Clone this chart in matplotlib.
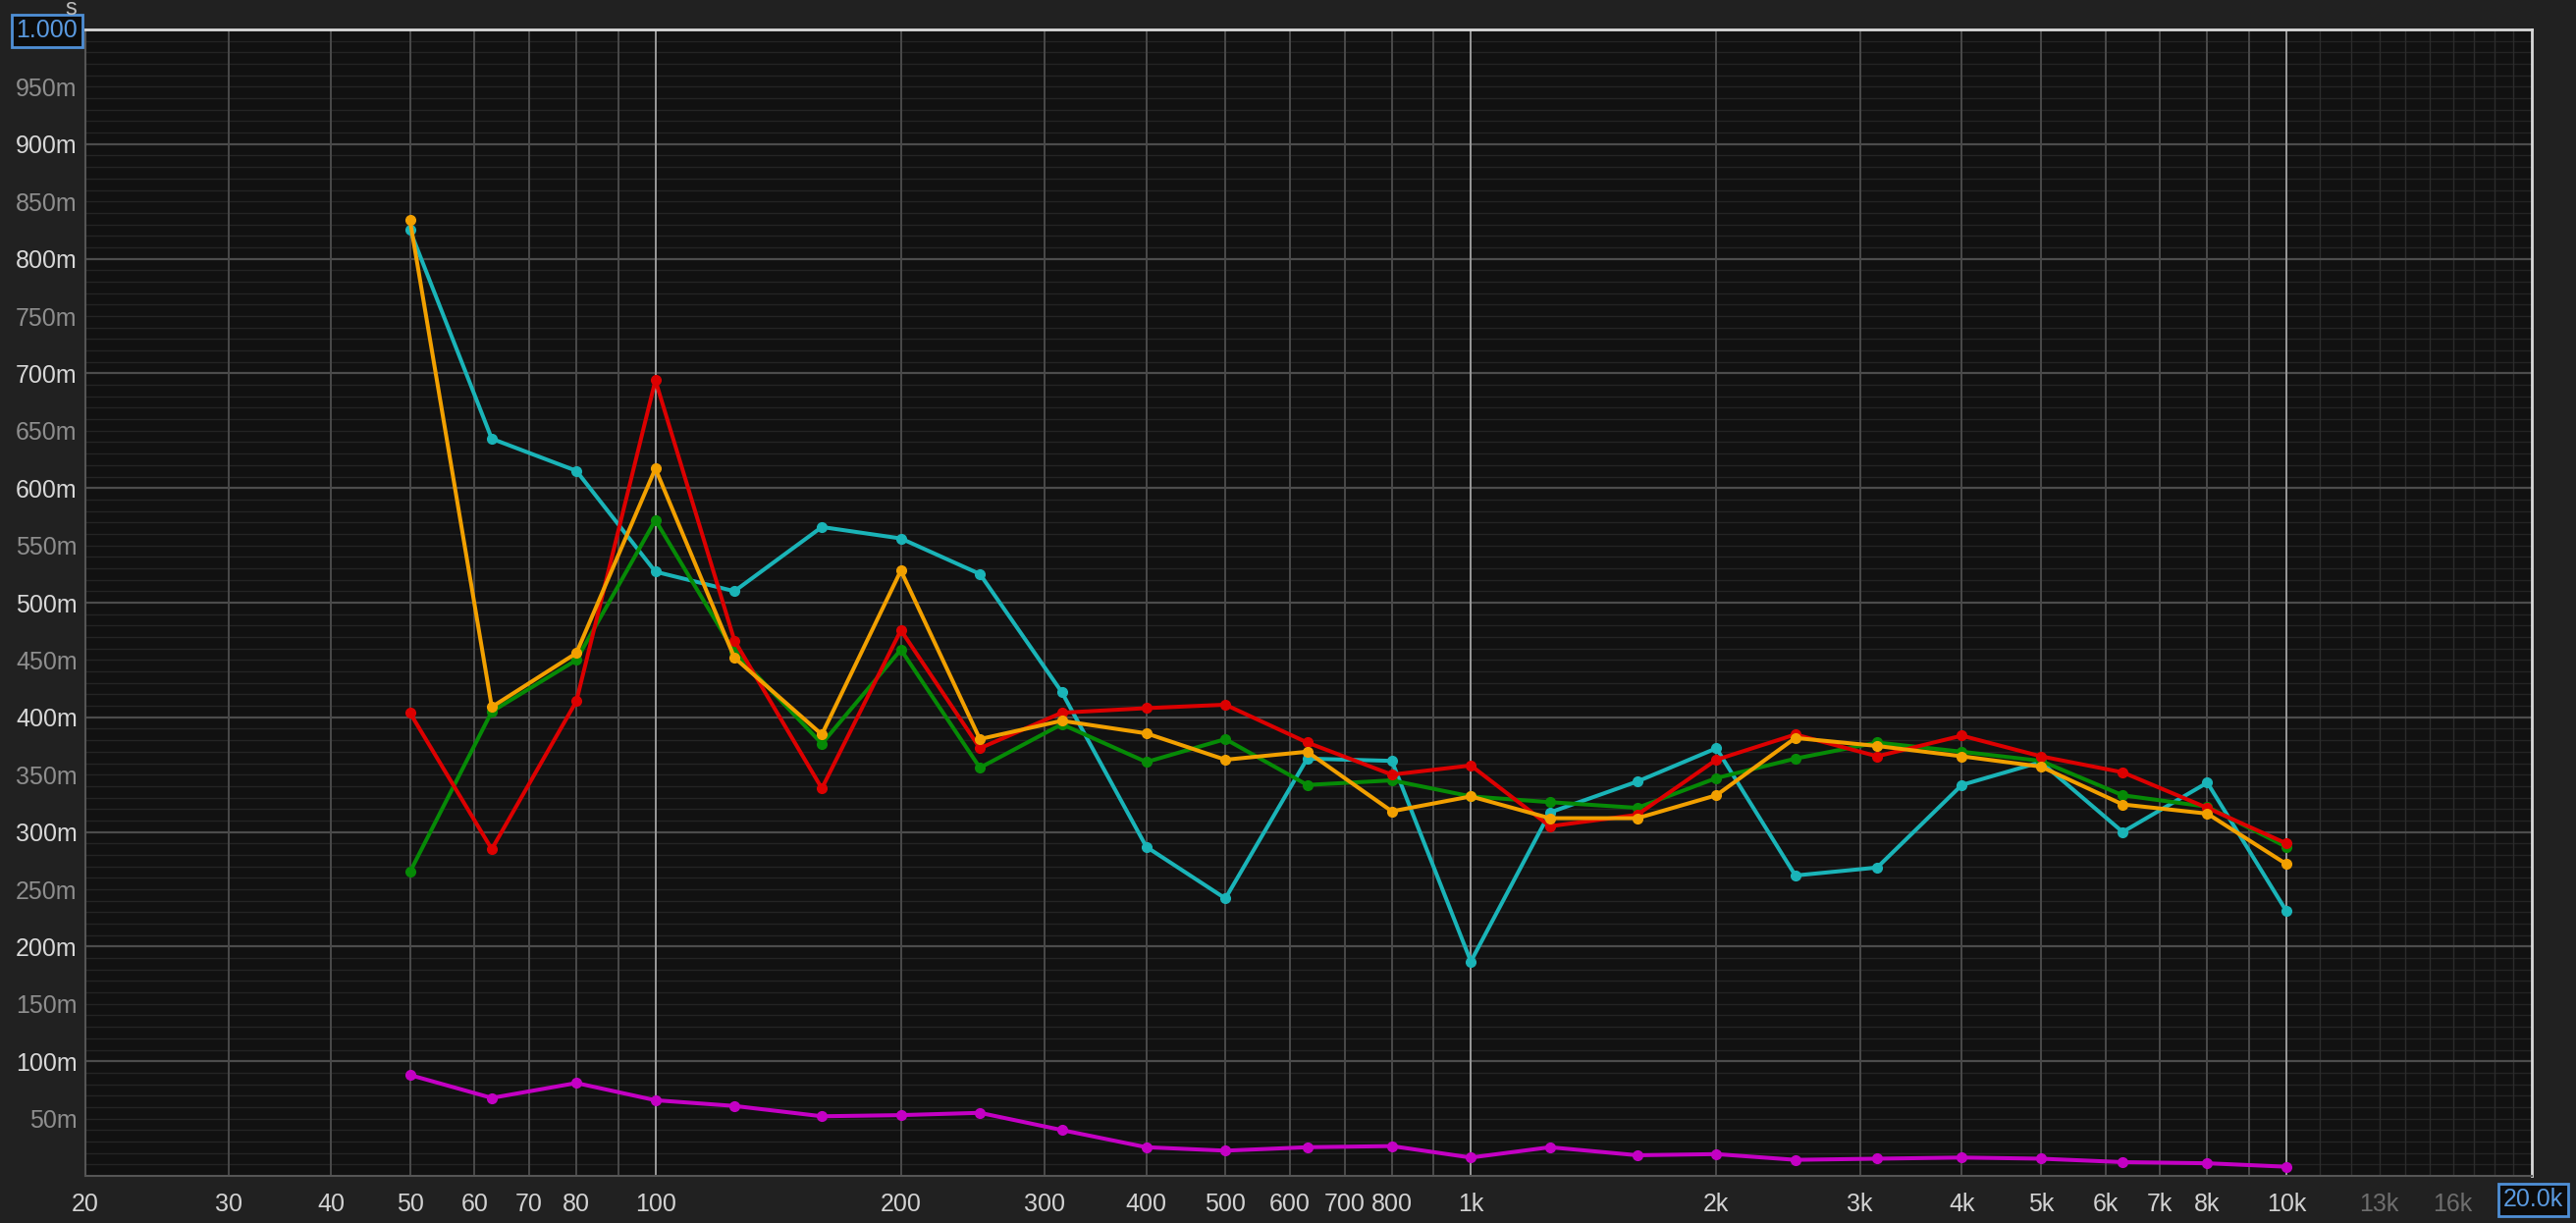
import matplotlib.pyplot as plt

# 1/3 octave centre frequencies (Hz)
freqs = [50, 63, 80, 100, 125, 160, 200, 250, 315, 400, 500, 630, 800,
         1000, 1250, 1600, 2000, 2500, 3150, 4000, 5000, 6300, 8000, 10000]

# decay times in seconds, one list per trace
rt_cyan = [0.825, 0.643, 0.615, 0.527, 0.510, 0.566, 0.556, 0.525, 0.422, 0.287,
           0.242, 0.364, 0.362, 0.187, 0.317, 0.344, 0.373, 0.262, 0.269, 0.341,
           0.361, 0.300, 0.343, 0.231]
rt_green = [0.265, 0.405, 0.450, 0.572, 0.457, 0.377, 0.459, 0.356, 0.394, 0.361,
            0.381, 0.341, 0.345, 0.331, 0.326, 0.321, 0.347, 0.364, 0.378, 0.370,
            0.362, 0.332, 0.322, 0.287]
rt_red = [0.404, 0.285, 0.414, 0.694, 0.467, 0.338, 0.476, 0.373, 0.404, 0.408,
          0.411, 0.378, 0.350, 0.358, 0.305, 0.315, 0.363, 0.385, 0.366, 0.384,
          0.366, 0.352, 0.321, 0.290]
rt_orange = [0.834, 0.409, 0.456, 0.617, 0.452, 0.385, 0.528, 0.381, 0.397, 0.386,
             0.363, 0.370, 0.318, 0.331, 0.312, 0.312, 0.332, 0.382, 0.375, 0.366,
             0.357, 0.324, 0.316, 0.272]
rt_magenta = [0.088, 0.068, 0.081, 0.066, 0.061, 0.052, 0.053, 0.055, 0.040, 0.025,
              0.022, 0.025, 0.026, 0.016, 0.025, 0.018, 0.019, 0.014, 0.015, 0.016,
              0.015, 0.012, 0.011, 0.008]

x_ticks = [20, 30, 40, 50, 60, 70, 80, 100, 200, 300, 400, 500, 600, 700, 800,
           1000, 2000, 3000, 4000, 5000, 6000, 7000, 8000, 10000, 13000, 16000]
x_labels = ['20', '30', '40', '50', '60', '70', '80', '100', '200', '300', '400',
            '500', '600', '700', '800', '1k', '2k', '3k', '4k', '5k', '6k', '7k',
            '8k', '10k', '13k', '16k']
y_ticks = [i * 0.05 for i in range(1, 20)]
y_labels = ['%dm' % round(v * 1000) for v in y_ticks]

plt.rcParams['font.family'] = ['Liberation Sans', 'DejaVu Sans']

fig = plt.figure(figsize=(26.24, 12.46), dpi=100, facecolor='#212121')
ax = fig.add_axes([87 / 2624, 48 / 1246, (2579 - 87) / 2624, (1198 - 30) / 1246])
ax.set_facecolor('#111111')
ax.set_xscale('log')
ax.set_xlim(20, 20000)
ax.set_ylim(0, 1.0)

# horizontal grid: fine every 10m, stronger every 100m
for i in range(1, 100):
    v = i / 100
    if i % 10 == 0:
        ax.axhline(v, color='#4c4c4c', lw=1.6, zorder=1)
    else:
        ax.axhline(v, color='#242424', lw=1.0, zorder=0.5)

# vertical grid on the 1..9 x decade positions
for dec in [10, 100, 1000]:
    for m in range(1, 10):
        f = m * dec
        if f < 20 or f > 10000:
            continue
        if f in (100, 1000):
            ax.axvline(f, color='#9a9a9a', lw=1.4, zorder=1)
        else:
            ax.axvline(f, color='#4a4a4a', lw=1.4, zorder=1)
ax.axvline(10000, color='#9a9a9a', lw=1.4, zorder=1)
for f in range(11000, 20000, 1000):
    ax.axvline(f, color='#2c2c2c', lw=1.0, zorder=0.8)

kw = dict(lw=2.9, marker='o', ms=7, zorder=3)
ax.plot(freqs, rt_magenta, color='#c400c4', **kw)
ax.plot(freqs, rt_cyan, color='#1ab4b8', **kw)
ax.plot(freqs, rt_green, color='#068a06', **kw)
ax.plot(freqs, rt_red, color='#dc0000', **kw)
ax.plot(freqs, rt_orange, color='#f2a000', **kw)

ax.set_xticks(x_ticks)
ax.set_xticklabels(x_labels)
ax.set_xticks([], minor=True)
ax.set_yticks(y_ticks)
ax.set_yticklabels(y_labels)
ax.tick_params(axis='both', length=0, labelsize=18)
ax.tick_params(axis='x', pad=12)
ax.tick_params(axis='y', pad=6)

for lab, f in zip(ax.get_xticklabels(), x_ticks):
    lab.set_color('#6e6e6e' if f > 10000 else '#d2d2d2')
for i, lab in enumerate(ax.get_yticklabels()):
    lab.set_color('#d8d8d8' if i % 2 == 1 else '#8e8e8e')

for side in ['left', 'bottom']:
    ax.spines[side].set_color('#555555')
    ax.spines[side].set_linewidth(1.5)
for side in ['top', 'right']:
    ax.spines[side].set_color('#d8d8d8')
    ax.spines[side].set_linewidth(2)

box = dict(boxstyle='square,pad=0.18', fc='#0c0c0c', ec='#4f8fd6', lw=2)
fig.text(79 / 2624, 1 - 31 / 1246, '1.000', color='#5a9ae0', fontsize=18,
         ha='right', va='center', bbox=box)
fig.text(2611 / 2624, 1 - 1222 / 1246, '20.0k', color='#5a9ae0', fontsize=18,
         ha='right', va='center', bbox=box)
fig.text(72 / 2624, 1 - 9 / 1246, 's', color='#bdbdbd', fontsize=17,
         ha='center', va='center')

fig.savefig('out.png', dpi=100, facecolor=fig.get_facecolor())
